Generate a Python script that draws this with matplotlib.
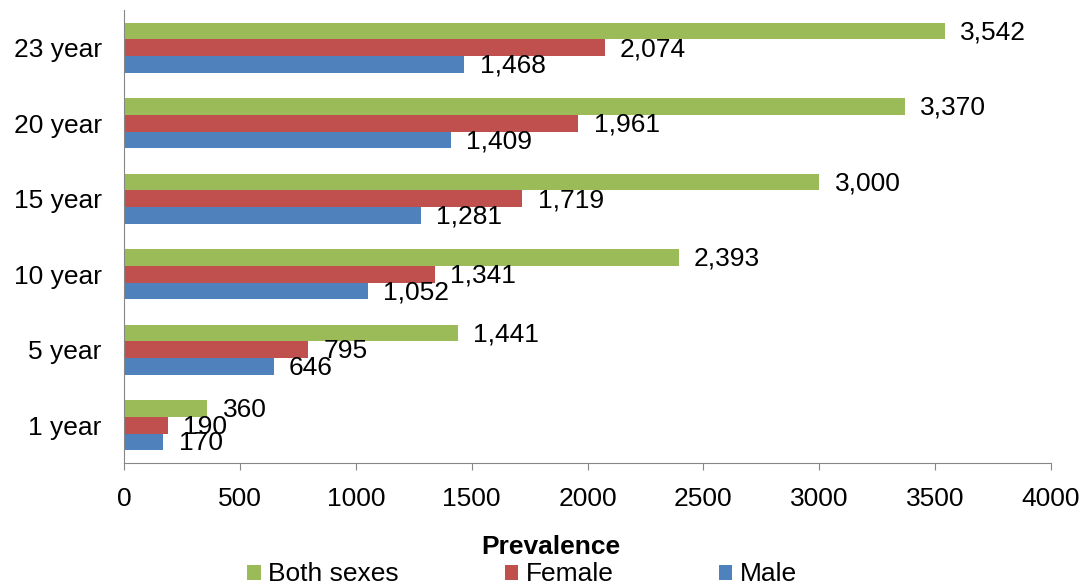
import numpy as np
import matplotlib.pyplot as plt

plt.rcParams['font.family'] = ['Liberation Sans', 'DejaVu Sans']

categories = ["1 year", "5 year", "10 year", "15 year", "20 year", "23 year"]
both = [360, 1441, 2393, 3000, 3370, 3542]
female = [190, 795, 1341, 1719, 1961, 2074]
male = [170, 646, 1052, 1281, 1409, 1468]

series = [("Both sexes", both, "#9BBB59"),
          ("Female", female, "#C0504D"),
          ("Male", male, "#4F81BD")]

fig = plt.figure(figsize=(10.86, 5.85), dpi=100)
ax = fig.add_axes([0.1142, 0.2085, 0.8536, 0.7744])

y = np.arange(len(categories))
h = 0.222
offsets = [h, 0, -h]
handles = []
for (name, vals, color), off in zip(series, offsets):
    bars = ax.barh(y + off, vals, height=h, color=color, label=name)
    handles.append(bars)
    for yy, v in zip(y + off, vals):
        ax.annotate(f"{v:,}", (v, yy), xytext=(11, -1), textcoords="offset points",
                    ha="left", va="center", fontsize=19)

ax.set_xlim(0, 4000)
ax.set_ylim(-0.5, 5.5)
ax.set_xticks(np.arange(0, 4001, 500))
ax.set_yticks(y)
ax.set_yticklabels(categories)
ax.tick_params(axis="y", length=0, labelsize=19, pad=16)
ax.tick_params(axis="x", length=5, color="#868686", labelsize=19, pad=12)
for s in ["top", "right"]:
    ax.spines[s].set_visible(False)
for s in ["left", "bottom"]:
    ax.spines[s].set_color("#868686")

ax.set_xlabel("Prevalence", fontsize=19, fontweight="bold")
ax.xaxis.set_label_coords(0.46, -0.158)

fig.legend(handles=handles, loc="center", bbox_to_anchor=(0.481, 0.018), ncol=3,
           frameon=False, fontsize=19, handlelength=0.5, handleheight=0.5,
           handletextpad=0.3, columnspacing=4.0, borderpad=0)

fig.savefig("out.png", dpi=100)
